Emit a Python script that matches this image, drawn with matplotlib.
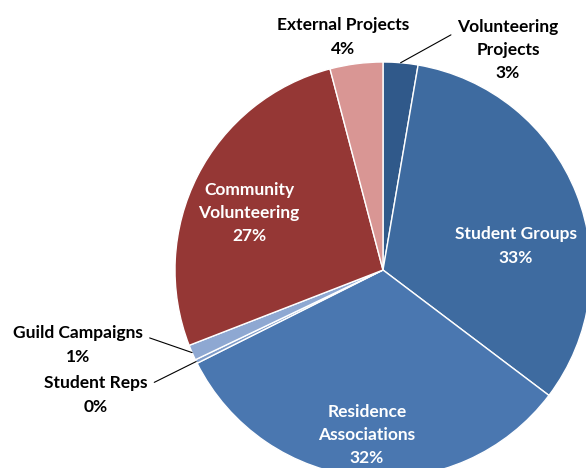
import numpy as np
import matplotlib.pyplot as plt

plt.rcParams['font.family'] = ['Lato', 'DejaVu Sans']
plt.rcParams['font.weight'] = 'bold'

# share of activity by area, going clockwise from the top
areas = ["Volunteering\nProjects", "Student Groups", "Residence\nAssociations",
         "Student Reps", "Guild Campaigns", "Community\nVolunteering",
         "External Projects"]
shares = [2.7, 32.6, 32.3, 0.3, 1.2, 26.8, 4.1]
colours = ["#30598A", "#3E6BA0", "#4A77B0", "#7F9CC9", "#8EA8D2",
           "#953735", "#D99694"]

W, H = 586, 468
cx, cy, r = 383, 270, 208


def px(x, y):
    # pixel position -> data units of the pie axes
    return (x - cx) / r, (cy - y) / r


fig = plt.figure(figsize=(W / 100, H / 100), dpi=100)
ax = fig.add_axes([(cx - r) / W, (H - cy - r) / H, 2 * r / W, 2 * r / H])
wedges, _ = ax.pie(shares, colors=colours, startangle=90, counterclock=False,
                   radius=1, wedgeprops=dict(edgecolor="white", linewidth=1))
for w in wedges:
    w.set_clip_on(False)
ax.set_xlim(-1, 1)
ax.set_ylim(-1, 1)
ax.set_aspect("equal")
ax.axis("off")

fs = 12.5
ls = 1.55
inside = {1: (516, 246), 2: (367, 435), 5: (249, 213)}
for i, (x, y) in inside.items():
    ax.text(*px(x, y), f"{areas[i]}\n{shares[i]:.0f}%", ha="center",
            va="center", color="white", fontsize=fs, linespacing=ls,
            clip_on=False)

ax.text(*px(343, 37), f"{areas[6]}\n{shares[6]:.0f}%", ha="center",
        va="center", color="black", fontsize=fs, linespacing=ls)

# labels for the thin slices, tied to the rim with leader lines
outside = {0: ((508, 50), (0, 0.8)), 4: ((78, 345), (1, 0.74)),
           3: ((96, 395), (1, 0.74))}
for i, ((x, y), rel) in outside.items():
    w = wedges[i]
    mid = np.deg2rad((w.theta1 + w.theta2) / 2)
    ax.annotate(f"{areas[i]}\n{shares[i]:.0f}%", xy=(np.cos(mid), np.sin(mid)),
                xytext=px(x, y), ha="center", va="center", fontsize=fs,
                linespacing=ls, annotation_clip=False,
                arrowprops=dict(arrowstyle="-", color="black", lw=0.8,
                                relpos=rel, shrinkA=3, shrinkB=0))

fig.savefig("out.png", dpi=100)
